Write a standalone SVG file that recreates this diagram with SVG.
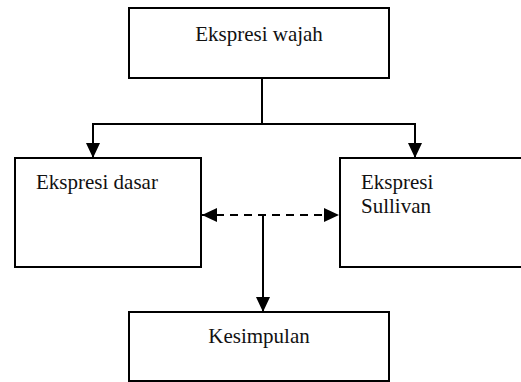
<svg xmlns="http://www.w3.org/2000/svg" width="521" height="382" viewBox="0 0 521 382">
  <style>
    .box { fill: #ffffff; stroke: #000000; stroke-width: 2; }
    .lbl { font-family: 'Liberation Serif', Tinos, 'Times New Roman', 'DejaVu Serif', serif; font-size: 21px; fill: #111111; }
    .ln { fill: none; stroke: #000000; stroke-width: 2; }
    .dash { stroke-dasharray: 8 6; }
  </style>
  <defs>
    <marker id="ah" markerUnits="userSpaceOnUse" markerWidth="15" markerHeight="14" refX="15" refY="7" orient="auto-start-reverse" viewBox="0 0 15 14">
      <path d="M0,0 L15,7 L0,14 z" fill="#000000" stroke="none"/>
    </marker>
  </defs>
  <g id="connectors">
    <path class="ln" d="M262,78 L262,124"/>
    <path class="ln" d="M93,124 L415,124"/>
    <path class="ln" d="M93,123 L93,158" marker-end="url(#ah)"/>
    <path class="ln" d="M415,123 L415,158" marker-end="url(#ah)"/>
    <path class="ln dash" d="M202,215 L339,215" marker-start="url(#ah)" marker-end="url(#ah)"/>
    <path class="ln" d="M263,215 L263,312" marker-end="url(#ah)"/>
  </g>
  <g id="node-wajah">
    <rect class="box" x="129" y="8" width="260" height="70"/>
    <text class="lbl" x="259" y="41" text-anchor="middle">Ekspresi wajah</text>
  </g>
  <g id="node-dasar">
    <rect class="box" x="15" y="158" width="186" height="109"/>
    <text class="lbl" x="36" y="189">Ekspresi dasar</text>
  </g>
  <g id="node-sullivan">
    <rect class="box" x="340" y="158" width="200" height="109"/>
    <text class="lbl" x="361" y="189">Ekspresi</text>
    <text class="lbl" x="361" y="213">Sullivan</text>
  </g>
  <g id="node-kesimpulan">
    <rect class="box" x="129" y="312" width="260" height="69"/>
    <text class="lbl" x="259" y="343" text-anchor="middle">Kesimpulan</text>
  </g>
</svg>
